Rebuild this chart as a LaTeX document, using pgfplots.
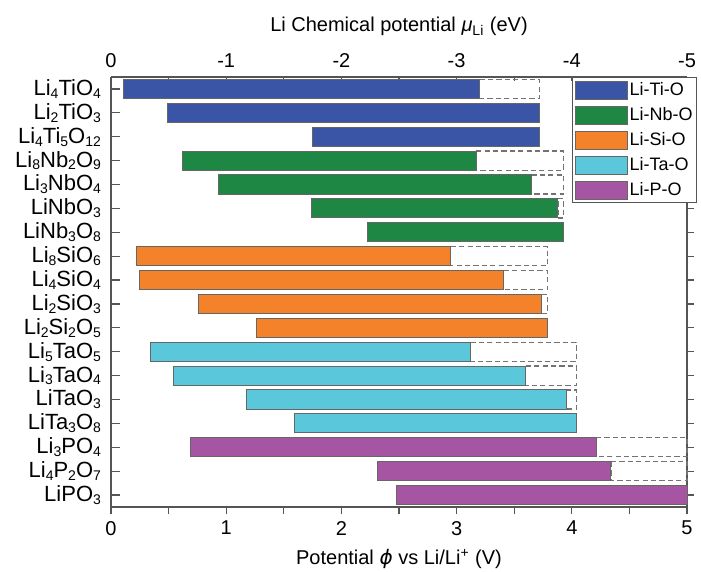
\documentclass[border=0pt]{standalone}
\usepackage{fontspec}
\setmainfont{Liberation Sans}
\newfontfamily\dvs{DejaVu Sans}
\usepackage{pgfplots}
\pgfplotsset{compat=1.18}
\definecolor{cTi}{HTML}{3A54A6}
\definecolor{cNb}{HTML}{1F8744}
\definecolor{cSi}{HTML}{F4822A}
\definecolor{cTa}{HTML}{5AC7DB}
\definecolor{cP}{HTML}{A655A3}
\definecolor{axc}{HTML}{555555}
\newcommand{\s}[1]{\raisebox{-0.25ex}{\fontsize{7}{8}\selectfont #1}}
% row, start, end, style
\newcommand{\rng}[4]{%
  \pgfmathsetmacro\ya{#1-0.4}\pgfmathsetmacro\yb{#1+0.4}%
  \edef\tmp{\noexpand\addplot[forget plot,#4] coordinates {(#2,\ya) (#3,\ya) (#3,\yb) (#2,\yb)} -- cycle;}\tmp}
\pgfplotsset{
  sb/.style={fill=#1, draw=black!60, line width=0.5pt},
  db/.style={fill=none, draw=black!55, line width=0.6pt, dash pattern=on 2.6pt off 1.6pt},
  base/.style={scale only axis, width=288pt, height=215pt,
    xmin=0, xmax=5, ymin=-0.5, ymax=17.5, y dir=reverse,
    axis line style={axc, line width=0.7pt},
    every tick/.style={axc, line width=0.6pt},
    /pgf/number format/assume math mode=true,
    tick label style={font=\fontsize{10}{12}\selectfont},
    label style={font=\fontsize{10}{12}\selectfont}},
}
\begin{document}
\begin{tikzpicture}
% top axis (Li chemical potential)
\begin{axis}[base, axis x line*=top, axis y line=none, tick align=inside,
  major tick length=1.8pt, minor tick length=1.8pt,
  xtick={0,1,2,3,4,5}, xticklabels={0,-1,-2,-3,-4,-5}, minor x tick num=1,
  xticklabel style={yshift=1pt},
  xlabel={Li Chemical potential {\itshape μ}\textsubscript{Li} (eV)},
  xlabel style={yshift=2pt}]
\addplot[draw=none, forget plot] coordinates {(0,0)};
\end{axis}
% left axis with categories
\begin{axis}[base, axis y line*=left, axis x line=none, tick align=inside,
  major tick length=4.5pt,
  ytick={0,...,17},
  yticklabels={Li\s{4}TiO\s{4}, Li\s{2}TiO\s{3}, Li\s{4}Ti\s{5}O\s{12},
    Li\s{8}Nb\s{2}O\s{9}, Li\s{3}NbO\s{4}, LiNbO\s{3}, LiNb\s{3}O\s{8},
    Li\s{8}SiO\s{6}, Li\s{4}SiO\s{4}, Li\s{2}SiO\s{3}, Li\s{2}Si\s{2}O\s{5},
    Li\s{5}TaO\s{5}, Li\s{3}TaO\s{4}, LiTaO\s{3}, LiTa\s{3}O\s{8},
    Li\s{3}PO\s{4}, Li\s{4}P\s{2}O\s{7}, LiPO\s{3}},
  yticklabel style={font=\fontsize{11}{12}\selectfont, xshift=-1.5pt}]
\addplot[draw=none, forget plot] coordinates {(0,0)};
\end{axis}
% main data axis (bottom + right)
\begin{axis}[base, name=main, axis x line*=bottom, axis y line*=right, tick align=outside,
  major tick length=3.5pt, minor tick length=3.5pt,
  xtick={0,1,2,3,4,5}, minor x tick num=1,
  ytick={0,...,17}, yticklabels={},
  xlabel={Potential {\dvs\itshape ϕ} vs Li/Li\textsuperscript{+} (V)},
  legend image code/.code={\draw[#1] (0pt,-4.5pt) rectangle (26pt,4.5pt);},
  legend style={at={(0.8,1.0)}, anchor=north west, draw=axc, line width=0.6pt,
    fill=white, font=\fontsize{9}{10}\selectfont, inner xsep=1.5pt, inner ysep=1.5pt,
    row sep=3pt, nodes={inner sep=0.6pt}, cells={anchor=west}},
  clip=false]
% dashed extensions
\rng{0}{3.20}{3.72}{db}
\rng{3}{3.17}{3.93}{db}
\rng{4}{3.65}{3.93}{db}
\rng{5}{3.88}{3.93}{db}
\rng{7}{2.95}{3.79}{db}
\rng{8}{3.41}{3.79}{db}
\rng{9}{3.74}{3.79}{db}
\rng{11}{3.12}{4.04}{db}
\rng{12}{3.60}{4.04}{db}
\rng{13}{3.95}{4.04}{db}
\rng{15}{4.21}{5.00}{db}
\rng{16}{4.34}{5.00}{db}
% Li-Ti-O
\rng{0}{0.11}{3.20}{sb=cTi}
\rng{1}{0.49}{3.72}{sb=cTi}
\rng{2}{1.75}{3.72}{sb=cTi}
% Li-Nb-O
\rng{3}{0.62}{3.17}{sb=cNb}
\rng{4}{0.93}{3.65}{sb=cNb}
\rng{5}{1.74}{3.88}{sb=cNb}
\rng{6}{2.23}{3.93}{sb=cNb}
% Li-Si-O
\rng{7}{0.22}{2.95}{sb=cSi}
\rng{8}{0.25}{3.41}{sb=cSi}
\rng{9}{0.76}{3.74}{sb=cSi}
\rng{10}{1.26}{3.79}{sb=cSi}
% Li-Ta-O
\rng{11}{0.34}{3.12}{sb=cTa}
\rng{12}{0.54}{3.60}{sb=cTa}
\rng{13}{1.18}{3.95}{sb=cTa}
\rng{14}{1.59}{4.04}{sb=cTa}
% Li-P-O
\rng{15}{0.69}{4.21}{sb=cP}
\rng{16}{2.31}{4.34}{sb=cP}
\rng{17}{2.48}{5.00}{sb=cP}
\addlegendimage{sb=cTi}\addlegendentry{Li-Ti-O}
\addlegendimage{sb=cNb}\addlegendentry{Li-Nb-O}
\addlegendimage{sb=cSi}\addlegendentry{Li-Si-O}
\addlegendimage{sb=cTa}\addlegendentry{Li-Ta-O}
\addlegendimage{sb=cP}\addlegendentry{Li-P-O}
\end{axis}
\pgfresetboundingbox
\path ([shift={(-55.5pt,-32pt)}]main.south west) rectangle ([shift={(7pt,38.5pt)}]main.north east);
\end{tikzpicture}
\end{document}
